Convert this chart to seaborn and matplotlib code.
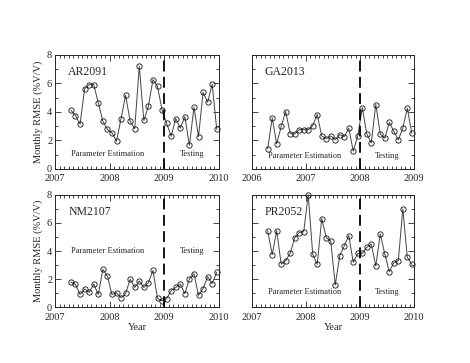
"""
Monthly RMSE of soil moisture at four sites, parameter estimation vs testing period
"""

import numpy as np
import pandas as pd
import matplotlib
matplotlib.use("Agg")
import matplotlib.pyplot as plt
from matplotlib.ticker import MultipleLocator
import seaborn as sns

# monthly RMSE values (%V/V), Apr of first year .. Dec of last year
ar2091 = [4.11, 3.74, 3.13, 5.61, 5.91, 5.91, 4.63, 3.34, 2.76, 2.53, 1.94,
          3.53, 5.16, 3.32, 2.81, 7.19, 3.39, 4.39, 6.26, 5.79, 4.11,
          3.18, 2.29, 3.53, 2.85, 3.65, 1.64, 4.32, 2.25, 5.37, 4.67, 5.93, 2.76]
ga2013 = [1.40, 3.58, 1.75, 2.98, 4.02, 2.47, 2.44, 2.75, 2.75, 2.75, 3.02,
          3.81, 2.30, 2.12, 2.30, 2.05, 2.40, 2.26, 2.84, 1.24, 2.30,
          4.30, 2.44, 1.82, 4.51, 2.44, 2.14, 3.26, 2.63, 2.03, 2.86, 4.25, 2.49]
nm2107 = [1.79, 1.62, 0.90, 1.29, 1.05, 1.64, 0.90, 2.69, 2.21, 0.90, 1.02,
          0.67, 0.98, 1.98, 1.40, 1.86, 1.40, 1.74, 2.62, 0.62, 0.45,
          0.60, 1.18, 1.40, 1.64, 0.95, 2.02, 2.38, 0.85, 1.32, 2.17, 1.68, 2.47]
pr2052 = [5.45, 3.74, 5.45, 3.07, 3.31, 3.83, 4.95, 5.31, 5.38, 8.00, 3.76,
          3.05, 6.31, 4.95, 4.71, 1.57, 3.67, 4.36, 5.10, 3.19, 3.83,
          3.83, 4.26, 4.50, 2.93, 5.21, 3.79, 2.52, 3.17, 3.31, 7.00, 3.55, 3.05]

sites = ["AR2091", "GA2013", "NM2107", "PR2052"]
values = [ar2091, ga2013, nm2107, pr2052]
start_years = [2007, 2006, 2007, 2007]   # first year of each record (starts in April)
split_years = [2009, 2008, 2009, 2009]   # start of the testing period

sns.set_theme(style="ticks")
plt.rcParams['font.family'] = ['Liberation Serif', 'DejaVu Serif']
plt.rcParams['mathtext.fontset'] = 'stix'


def decimal_months(start_year, n):
    """Mid-month decimal years, starting in April"""
    dates = pd.date_range(f"{start_year}-04-01", periods=n, freq="MS")
    return dates.year + (dates.month - 0.5) / 12.0


fig = plt.figure(figsize=(4.70, 3.63), dpi=100)

# axes boxes in figure fractions
boxes = [
    [0.117, 0.535, 0.349, 0.314],
    [0.536, 0.535, 0.345, 0.314],
    [0.117, 0.154, 0.349, 0.309],
    [0.536, 0.154, 0.345, 0.309],
]

for i, (site, vals, y0, ysplit) in enumerate(zip(sites, values, start_years, split_years)):
    ax = fig.add_axes(boxes[i])
    df = pd.DataFrame({"year": decimal_months(y0, len(vals)), "rmse": vals})

    sns.lineplot(data=df, x="year", y="rmse", ax=ax, color="#444444", linewidth=0.7,
                 marker="o", markersize=3.8, markerfacecolor="none",
                 markeredgecolor="#111111", markeredgewidth=0.6, clip_on=False)

    ax.axvline(ysplit, color="black", linestyle=(0, (6, 3)), linewidth=1.3)

    ax.set_xlim(y0, y0 + 3)
    ax.set_ylim(0, 8)
    ax.xaxis.set_major_locator(MultipleLocator(1))
    ax.xaxis.set_minor_locator(MultipleLocator(1 / 12))
    ax.yaxis.set_major_locator(MultipleLocator(2))
    ax.yaxis.set_minor_locator(MultipleLocator(1))
    ax.tick_params(which="both", direction="in", top=True, right=True,
                   labelsize=7.5, width=0.6)
    ax.tick_params(axis="y", pad=2)
    ax.tick_params(axis="x", pad=4)
    ax.tick_params(which="major", length=4)
    ax.tick_params(which="minor", length=2.2)
    for sp in ax.spines.values():
        sp.set_linewidth(0.7)

    ax.text(0.08, 0.85, site, transform=ax.transAxes, fontsize=8.5, va="center")

    # period annotations
    if i == 2:
        ty = 4.0
    elif i == 1:
        ty = 0.9
    else:
        ty = 1.06
    ax.text(ysplit - 1.03, ty, "Parameter Estimation", fontsize=6, ha="center", va="center")
    ax.text(ysplit + 0.5, ty, "Testing", fontsize=6, ha="center", va="center")

    if i % 2 == 0:
        ax.set_ylabel("Monthly RMSE (%V/V)", fontsize=7.5, labelpad=3)
    else:
        ax.set_ylabel("")
        ax.set_yticklabels([])
    if i >= 2:
        ax.set_xlabel("Year", fontsize=7.5, labelpad=1)
    else:
        ax.set_xlabel("")

fig.savefig("out.png", dpi=100)
